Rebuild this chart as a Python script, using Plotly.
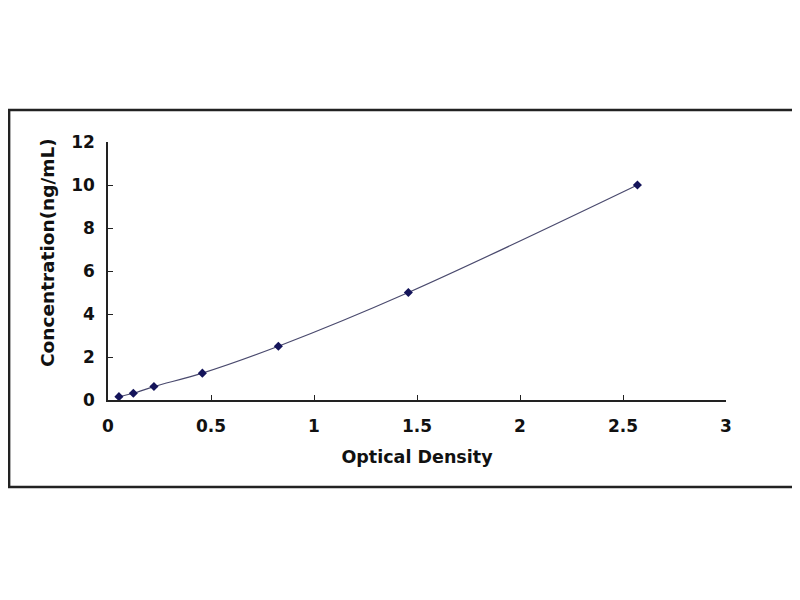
"""
Standard curve: concentration vs optical density, drawn with Plotly
"""

import plotly.graph_objects as go

# values
optical_density = [0.053, 0.123, 0.223, 0.458, 0.827, 1.458, 2.57]
concentration = [0.156, 0.312, 0.625, 1.25, 2.5, 5, 10]

x_ticks = [0, 0.5, 1, 1.5, 2, 2.5, 3]
x_tick_labels = ["0", "0.5", "1", "1.5", "2", "2.5", "3"]
y_ticks = [0, 2, 4, 6, 8, 10, 12]

FONT = "DejaVu Sans, Arial, sans-serif"
label_font = {"family": FONT, "size": 17, "color": "#111111", "weight": "bold"}

fig = go.Figure()

fig.add_trace(go.Scatter(
    x=optical_density,
    y=concentration,
    mode="lines+markers",
    line={"color": "#4a4a6e", "width": 1.2, "shape": "spline"},
    marker={"symbol": "diamond", "size": 7, "color": "#14145a"},
    showlegend=False
))

axis_style = {
    "showline": True,
    "linecolor": "#222222",
    "linewidth": 1.5,
    "ticks": "inside",
    "ticklen": 5,
    "tickcolor": "#222222",
    "showgrid": False,
    "zeroline": False,
    "tickfont": label_font,
}

fig.update_xaxes(
    range=[0, 3],
    tickvals=x_ticks,
    ticktext=x_tick_labels,
    ticklabelstandoff=10,
    title={"text": "Optical Density", "standoff": 16,
           "font": {"family": FONT, "size": 17.5, "color": "#111111", "weight": "bold"}},
    **axis_style
)
fig.update_yaxes(
    range=[0, 12],
    tickvals=y_ticks,
    ticklabelstandoff=8,
    **axis_style
)

# y title placed by hand: in the reference it sits a bit above the plot's middle
fig.add_annotation(
    text="Concentration(ng/mL)",
    xref="paper", yref="paper",
    x=-0.097, y=0.57,
    xanchor="center", yanchor="middle",
    textangle=-90,
    showarrow=False,
    font={"family": FONT, "size": 18.5, "color": "#111111", "weight": "bold"}
)

# outer frame around the whole chart
fig.add_shape(
    type="rect", xref="paper", yref="paper",
    x0=-0.160, x1=1.115, y0=-0.337, y1=1.124,
    line={"color": "#222222", "width": 2.5}
)

fig.update_layout(
    width=800,
    height=600,
    margin={"l": 100, "r": 82, "t": 134, "b": 208},
    paper_bgcolor="white",
    plot_bgcolor="white",
)

fig.write_html("out.html")
